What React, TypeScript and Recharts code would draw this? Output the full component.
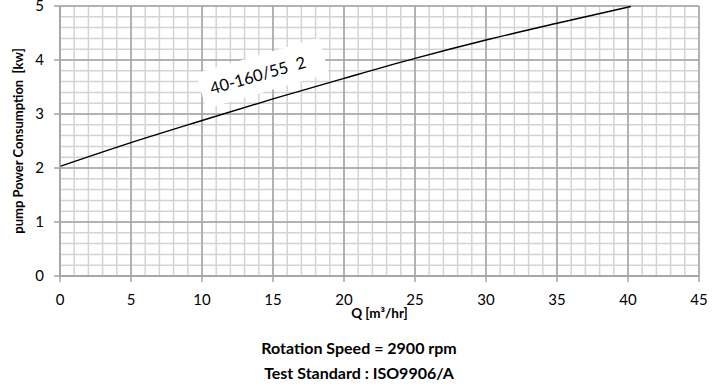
import React from "react";
import {
  LineChart,
  Line,
  XAxis,
  YAxis,
  CartesianGrid,
  ReferenceDot,
} from "recharts";

const flowQ = [0, 5, 10, 15, 20, 25, 30, 35, 40.2];
const powerKw = [2.03, 2.47, 2.88, 3.28, 3.66, 4.03, 4.37, 4.68, 4.99];
const xTicks = [0, 5, 10, 15, 20, 25, 30, 35, 40, 45];
const yTicks = [0, 1, 2, 3, 4, 5];
const xMinor = Array.from({ length: 46 }, (_, i) => i);
const yMinor = Array.from({ length: 26 }, (_, i) => Math.round(i * 2) / 10);
const curveName = "40-160/55  2";
const labelPos = { q: 14.2, p: 3.74 };
const xLabel = "Q [m³/hr]";
const yLabel = "pump Power Consumption  [kw]";
const footer1 = "Rotation Speed = 2900 rpm";
const footer2 = "Test Standard : ISO9906/A";

const data = flowQ.map((q, i) => ({ q, p: powerKw[i] }));

const FONT = "Lato, 'Open Sans', 'Liberation Sans', sans-serif";

const CurveLabel = (props: any) => {
  const { cx, cy } = props;
  return (
    <g transform={`translate(${cx},${cy}) rotate(-16)`}>
      <rect x={-63} y={-19} width={128} height={37} fill="#ffffff" />
      <text
        x={-4}
        y={6}
        textAnchor="middle"
        fontFamily={FONT}
        fontSize={16.5}
        fill="#000"
        style={{ whiteSpace: "pre" }}
      >
        {curveName}
      </text>
    </g>
  );
};

const YLabel = (props: any) => {
  const vb = props.viewBox || { x: 0, y: 0, width: 60, height: 270 };
  const x = 18;
  const y = vb.y + vb.height / 2;
  return (
    <text
      x={x}
      y={y}
      transform={`rotate(-90, ${x}, ${y})`}
      textAnchor="middle"
      dominantBaseline="central"
      fontFamily={FONT}
      fontWeight="bold"
      fontSize={13}
      fill="#000"
      style={{ whiteSpace: "pre" }}
    >
      {yLabel}
    </text>
  );
};

const XLabel = (props: any) => {
  const vb = props.viewBox || { x: 60, y: 276, width: 639, height: 30 };
  const x = vb.x + vb.width / 2;
  return (
    <text
      x={x}
      y={318}
      textAnchor="middle"
      fontFamily={FONT}
      fontWeight="bold"
      fontSize={13.5}
      fill="#000"
    >
      {xLabel}
    </text>
  );
};

export default function App() {
  return (
    <div style={{ position: "absolute", left: 0, top: 0, width: 714, height: 386, background: "#fff" }}>
      <LineChart
        width={714}
        height={386}
        data={data}
        margin={{ top: 6, right: 15, left: 0, bottom: 80 }}
      >
        <CartesianGrid
          horizontalValues={yMinor}
          verticalValues={xMinor}
          stroke="#d3d3d3"
          strokeWidth={1.5}
        />
        <CartesianGrid
          horizontalValues={yTicks}
          verticalValues={xTicks}
          stroke="#a3a3a3"
          strokeWidth={1.5}
        />
        <XAxis
          dataKey="q"
          type="number"
          domain={[0, 45]}
          ticks={xTicks}
          interval={0}
          height={30}
          tickSize={6}
          tickMargin={12}
          axisLine={{ stroke: "#a3a3a3", strokeWidth: 1.5 }}
          tickLine={{ stroke: "#a3a3a3", strokeWidth: 1.5 }}
          tick={{ fill: "#000", fontSize: 15, fontFamily: FONT }}
          label={<XLabel />}
        />
        <YAxis
          type="number"
          domain={[0, 5]}
          ticks={yTicks}
          interval={0}
          width={60}
          tickSize={6}
          tickMargin={10}
          axisLine={{ stroke: "#a3a3a3", strokeWidth: 1.5 }}
          tickLine={{ stroke: "#a3a3a3", strokeWidth: 1.5 }}
          tick={{ fill: "#000", fontSize: 15, fontFamily: FONT }}
          label={<YLabel />}
        />
        <Line
          type="monotone"
          dataKey="p"
          stroke="#000"
          strokeWidth={1.5}
          dot={false}
          isAnimationActive={false}
        />
        <ReferenceDot
          x={labelPos.q}
          y={labelPos.p}
          shape={<CurveLabel />}
        />
      </LineChart>
      <div
        style={{
          position: "absolute",
          left: 0,
          width: 714,
          top: 335,
          textAlign: "center",
          fontFamily: FONT,
          fontWeight: "bold",
          fontSize: 16,
          lineHeight: "25px",
          color: "#000",
          paddingLeft: 2,
        }}
      >
        <div>{footer1}</div>
        <div>{footer2}</div>
      </div>
    </div>
  );
}
